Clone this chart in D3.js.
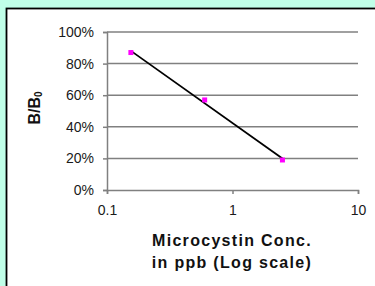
<!DOCTYPE html>
<html>
<head>
<meta charset="utf-8">
<script src="https://cdn.jsdelivr.net/npm/d3@7"></script>
<style>
  html, body { margin: 0; padding: 0; background: #c0ffe8; }
  svg { display: block; font-family: "Liberation Sans", Arial, sans-serif; }
</style>
</head>
<body>
<div id="chart"></div>
<script>
// readings
const concs = [0.155, 0.6, 2.5];      // ppb
const ratios = [0.87, 0.57, 0.19];    // B/B0
const yTicks = [0, 0.2, 0.4, 0.6, 0.8, 1];
const xTicks = [0.1, 1, 10];

var W = 375, H = 286;
var svg = d3.select("#chart").append("svg").attr("width", W).attr("height", H);

// white panel with black frame
svg.append("rect").attr("x", 6.5).attr("y", 8.5).attr("width", W + 10).attr("height", H + 10)
  .attr("fill", "#fff").attr("stroke", "#000").attr("stroke-width", 1.8);

var x = d3.scaleLog().domain([0.1, 10]).range([107, 358]);
var y = d3.scaleLinear().domain([0, 1]).range([190, 32]);

// gridlines
svg.append("g").selectAll("line").data(yTicks.filter(d => d > 0)).join("line")
  .attr("x1", x(0.1)).attr("x2", x(10))
  .attr("y1", d => y(d)).attr("y2", d => y(d))
  .attr("stroke", "#808080").attr("stroke-width", 1.5);

// y axis
var yAxis = svg.append("g").attr("transform", "translate(" + x(0.1) + ",0)")
  .call(d3.axisLeft(y).tickValues(yTicks).tickFormat(d3.format(".0%")).tickSize(4).tickPadding(9));
// x axis
var xAxis = svg.append("g").attr("transform", "translate(0," + y(0) + ")")
  .call(d3.axisBottom(x).tickValues(xTicks).tickFormat(d => d).tickSize(4).tickPadding(11));

[yAxis, xAxis].forEach(function(a) {
  a.selectAll(".domain").attr("stroke", "#808080").attr("stroke-width", 1.5);
  a.selectAll(".tick line").attr("stroke", "#808080").attr("stroke-width", 1.5);
  a.selectAll("text").attr("fill", "#1a1a1a").style("font-size", "14px")
    .style("font-family", "'Liberation Sans', Arial, sans-serif");
});

// log trend line (least squares on log10 conc)
var lx = concs.map(Math.log10);
var mx = d3.mean(lx), my = d3.mean(ratios);
var b = d3.sum(lx, (v, i) => (v - mx) * (ratios[i] - my)) / d3.sum(lx, v => (v - mx) * (v - mx));
var a = my - b * mx;
var ends = d3.extent(concs);
svg.append("path")
  .datum(ends)
  .attr("d", d3.line().x(d => x(d)).y(d => y(a + b * Math.log10(d))))
  .attr("stroke", "#000").attr("stroke-width", 1.8).attr("fill", "none");

// points
svg.append("g").selectAll("rect").data(concs).join("rect")
  .attr("x", d => x(d) - 2.5).attr("y", (d, i) => y(ratios[i]) - 2.5)
  .attr("width", 5).attr("height", 5).attr("fill", "#ff00ff");

// titles
var yt = svg.append("text").attr("transform", "translate(40,108) rotate(-90)")
  .attr("text-anchor", "middle").attr("font-weight", "bold").attr("font-size", 16).attr("fill", "#111");
yt.append("tspan").text("B/B");
yt.append("tspan").attr("font-size", 10).attr("dy", 2).text("0");

var xt = svg.append("text").attr("text-anchor", "middle").attr("font-weight", "bold")
  .attr("font-size", 16).attr("fill", "#111").style("letter-spacing", "1.3px");
xt.append("tspan").attr("x", 232).attr("y", 246).text("Microcystin Conc.");
xt.append("tspan").attr("x", 232).attr("y", 268).text("in ppb (Log scale)");
</script>
</body>
</html>
